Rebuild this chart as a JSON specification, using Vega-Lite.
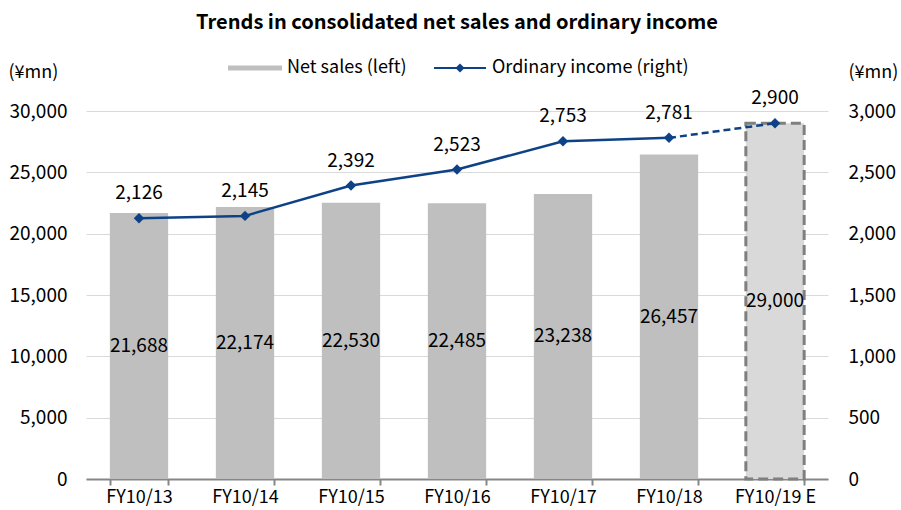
{
  "$schema": "https://vega.github.io/schema/vega-lite/v6.json",
  "width": 742,
  "height": 368,
  "autosize": {"type": "none"},
  "padding": {"left": 86, "top": 111, "right": 73, "bottom": 31},
  "background": "white",
  "config": {
    "font": "Noto Sans CJK JP",
    "view": {"stroke": null},
    "axis": {"labelFont": "Noto Sans CJK JP", "labelColor": "#000000", "titleFont": "Noto Sans CJK JP", "titleColor": "#000000", "titleFontWeight": "normal"},
    "legend": {"labelFont": "Noto Sans CJK JP", "labelColor": "#000000"}
  },
  "title": {
    "text": "Trends in consolidated net sales and ordinary income",
    "anchor": "middle",
    "fontSize": 20,
    "fontWeight": "bold",
    "font": "Noto Sans CJK JP",
    "color": "#000000",
    "offset": 8
  },
  "data": {
    "values": [
      {"year": "FY10/13", "sales": 21688, "income": 2126},
      {"year": "FY10/14", "sales": 22174, "income": 2145},
      {"year": "FY10/15", "sales": 22530, "income": 2392},
      {"year": "FY10/16", "sales": 22485, "income": 2523},
      {"year": "FY10/17", "sales": 23238, "income": 2753},
      {"year": "FY10/18", "sales": 26457, "income": 2781},
      {"year": "FY10/19 E", "sales": 29000, "income": 2900}
    ]
  },
  "encoding": {
    "x": {
      "field": "year",
      "type": "nominal",
      "sort": null,
      "scale": {"paddingInner": 0.45, "paddingOuter": 0.225},
      "axis": {
        "title": null,
        "labelAngle": 0,
        "labelFontSize": 18,
        "labelPadding": 3,
        "domainColor": "#868686",
        "domainWidth": 2,
        "tickColor": "#868686",
        "tickWidth": 2,
        "tickSize": 6,
        "tickBand": "extent",
        "grid": false
      }
    }
  },
  "layer": [
    {
      "encoding": {
        "y": {
          "field": "sales",
          "type": "quantitative",
          "scale": {"domain": [0, 30000], "nice": false},
          "axis": {
            "orient": "left",
            "values": [0, 5000, 10000, 15000, 20000, 25000, 30000],
            "format": ",.0f",
            "labelFontSize": 19,
            "labelPadding": 19,
            "ticks": false,
            "domain": false,
            "grid": true,
            "gridColor": "#d9d9d9",
            "gridWidth": 1,
            "title": "(¥mn)",
            "titleFontSize": 18,
            "titleAngle": 0,
            "titleAlign": "left",
            "titleBaseline": "middle",
            "titleX": -78,
            "titleY": -39
          }
        }
      },
      "layer": [
        {
          "transform": [{"filter": "datum.year != 'FY10/19 E'"}],
          "mark": {"type": "bar"},
          "encoding": {
            "fill": {
              "datum": "Net sales (left)",
              "type": "nominal",
              "scale": {"range": ["#bfbfbf"]},
              "legend": {
                "orient": "none",
                "legendX": 142,
                "legendY": -70,
                "title": null,
                "symbolType": "M-1,-0.09H1V0.09H-1Z",
                "symbolSize": 2916,
                "symbolStrokeWidth": 0,
                "labelFontSize": 18,
                "labelOffset": 5,
                "labelLimit": 400
              }
            }
          }
        },
        {
          "transform": [{"filter": "datum.year == 'FY10/19 E'"}],
          "mark": {"type": "bar", "fill": "#d9d9d9", "stroke": "#7f7f7f", "strokeWidth": 3, "strokeDash": [10, 5]}
        }
      ]
    },
    {
      "encoding": {
        "y": {
          "field": "income",
          "type": "quantitative",
          "scale": {"domain": [0, 3000], "nice": false},
          "axis": {
            "orient": "right",
            "values": [0, 500, 1000, 1500, 2000, 2500, 3000],
            "format": ",.0f",
            "labelFontSize": 19,
            "labelPadding": 20,
            "ticks": false,
            "domain": false,
            "grid": false,
            "title": "(¥mn)",
            "titleFontSize": 18,
            "titleAngle": 0,
            "titleAlign": "left",
            "titleBaseline": "middle",
            "titleX": 20,
            "titleY": -39
          }
        }
      },
      "layer": [
        {
          "transform": [{"filter": "datum.year != 'FY10/19 E'"}],
          "mark": {"type": "line", "strokeWidth": 2.5},
          "encoding": {
            "stroke": {
              "datum": "Ordinary income (right)",
              "type": "nominal",
              "scale": {"range": ["#0e4287"]},
              "legend": {
                "orient": "none",
                "legendX": 347,
                "legendY": -70,
                "title": null,
                "symbolType": "M-1,0H-0.12L0,-0.12L0.12,0H1H0.12L0,0.12L-0.12,0Z",
                "symbolSize": 2704,
                "symbolStrokeWidth": 2,
                "labelFontSize": 18,
                "labelOffset": 5,
                "labelLimit": 400,
                "symbolFillColor": "#0e4287"
              }
            }
          }
        },
        {
          "transform": [{"filter": "datum.year == 'FY10/18' || datum.year == 'FY10/19 E'"}],
          "mark": {"type": "line", "strokeWidth": 2.5, "strokeDash": [7, 4], "color": "#0e4287"}
        },
        {
          "mark": {"type": "point", "shape": "diamond", "filled": true, "size": 110, "color": "#0e4287", "opacity": 1}
        },
        {
          "mark": {"type": "text", "fontSize": 19, "dy": -25, "baseline": "middle", "color": "#000000"},
          "encoding": {"text": {"field": "income", "type": "quantitative", "format": ",.0f"}}
        }
      ]
    },
    {
      "mark": {"type": "text", "fontSize": 19, "baseline": "middle", "color": "#000000"},
      "encoding": {
        "y": {"field": "sales", "type": "quantitative", "scale": {"domain": [0, 60000], "nice": false}, "axis": null},
        "text": {"field": "sales", "type": "quantitative", "format": ",.0f"}
      }
    }
  ],
  "resolve": {"scale": {"y": "independent"}}
}
